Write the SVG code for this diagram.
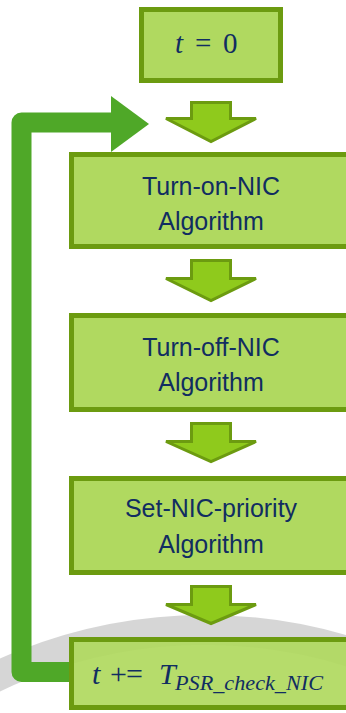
<svg xmlns="http://www.w3.org/2000/svg" width="346" height="713" viewBox="0 0 346 713">
<style>
.box{fill:#b0d960;stroke:#6c9b10;stroke-width:5}
.dn{fill:#8fca1c;stroke:#6c9b10;stroke-width:3;stroke-linejoin:miter}
.lbl{font-family:"Liberation Sans",Arial,sans-serif;font-size:25px;fill:#112d61;text-anchor:middle}
.math{font-family:"Liberation Serif","Times New Roman",serif;fill:#112d61}
</style>
<rect width="346" height="713" fill="#ffffff"/>
<g id="watermark">
<circle cx="205" cy="1120" r="490" fill="none" stroke="#b4b4b4" stroke-width="30" opacity="0.55"/>
</g>
<g id="connectors">
<path d="M69 672 L21.5 672 L21.5 122.5 L113 122.5" fill="none" stroke="#4fa828" stroke-width="20" stroke-linejoin="round"/>
<polygon points="111,96 149,124 111,152" fill="#4fa828"/>
<path class="dn" d="M191.5 102.5 H230.5 V118.5 H256 L211 141.5 L166 118.5 H191.5 Z"/>
<path class="dn" d="M191.5 260.5 H230.5 V278.5 H256 L211 300.5 L166 278.5 H191.5 Z"/>
<path class="dn" d="M191.5 423.5 H230.5 V441.5 H256 L211 461.5 L166 441.5 H191.5 Z"/>
<path class="dn" d="M191.5 586.5 H230.5 V604.5 H256 L211 623.5 L166 604.5 H191.5 Z"/>
</g>
<g id="start">
<rect class="box" x="141.5" y="9.5" width="139" height="71"/>
<text class="math" y="53" font-size="29"><tspan x="175" font-style="italic">t</tspan><tspan x="195">=</tspan><tspan x="223">0</tspan></text>
</g>
<g id="turn-on">
<rect class="box" x="71.5" y="154.5" width="282" height="92"/>
<text class="lbl" x="211" y="195">Turn-on-NIC</text>
<text class="lbl" x="211" y="230">Algorithm</text>
</g>
<g id="turn-off">
<rect class="box" x="71.5" y="315.5" width="282" height="94"/>
<text class="lbl" x="211" y="356">Turn-off-NIC</text>
<text class="lbl" x="211" y="391">Algorithm</text>
</g>
<g id="set-priority">
<rect class="box" x="71.5" y="478.5" width="282" height="94"/>
<text class="lbl" x="211" y="517">Set-NIC-priority</text>
<text class="lbl" x="211" y="553">Algorithm</text>
</g>
<g id="increment">
<rect class="box" x="71.5" y="639.5" width="282" height="68" fill-opacity="0.93"/>
<text class="math" y="684" font-size="30"><tspan x="92" font-style="italic">t</tspan><tspan x="110">+</tspan><tspan x="126">=</tspan><tspan x="159" font-style="italic">T</tspan></text>
<text class="math" x="175" y="690" font-size="20" font-style="italic" textLength="148" lengthAdjust="spacingAndGlyphs">PSR_check_NIC</text>
</g>
</svg>
